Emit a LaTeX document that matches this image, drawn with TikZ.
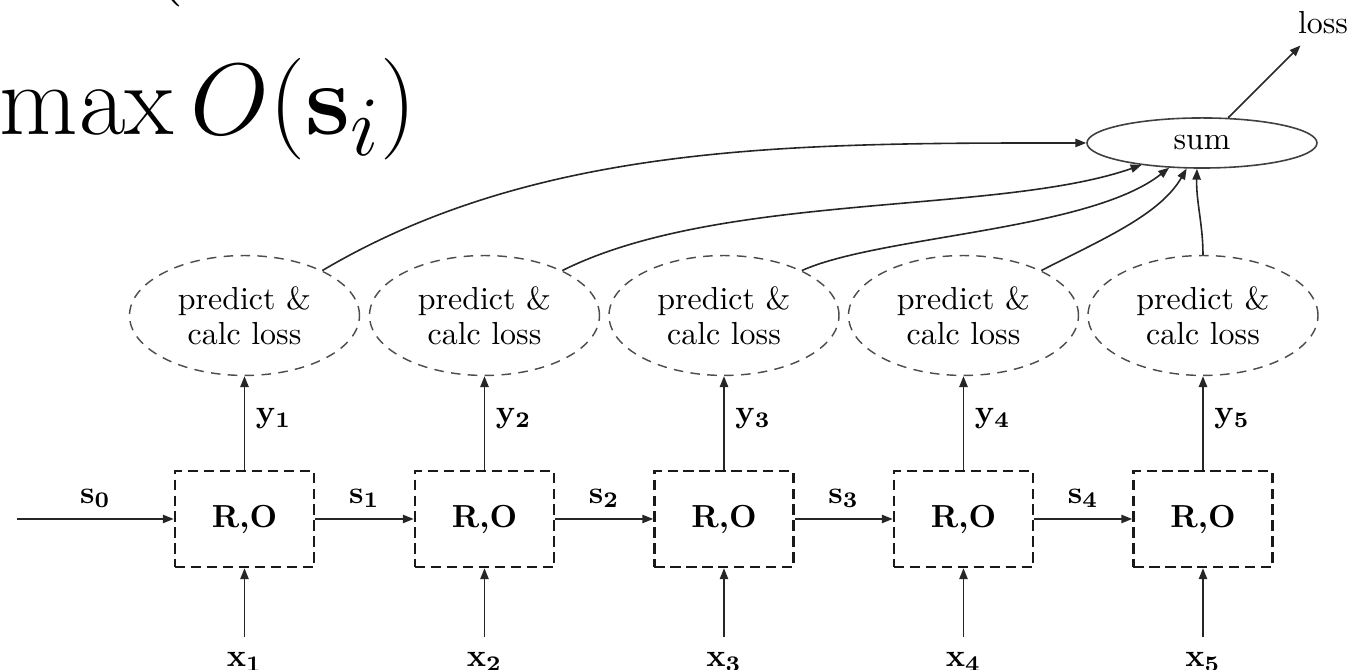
\documentclass[tikz,border=0pt]{standalone}
\usepackage{graphicx}
\usetikzlibrary{shapes.geometric,arrows.meta}
\begin{document}
\begin{tikzpicture}[x=0.3135pt,y=-0.3135pt,
  arr/.style={draw=black!85,line width=0.5pt,-{Triangle[length=3.4pt,width=2.6pt]}},
  robox/.style={draw=black!90,line width=0.8pt,dash pattern=on 3.2pt off 1.8pt,minimum width=43.6pt,minimum height=30.1pt,inner sep=0pt,font=\bfseries},
  pred/.style={ellipse,draw=black!70,line width=0.45pt,dash pattern=on 3pt off 2.3pt,minimum width=72.1pt,minimum height=37.6pt,inner sep=0pt,align=center,font=\fontsize{10}{11}\selectfont},
  sumnode/.style={ellipse,draw=black!75,line width=0.5pt,minimum width=72.1pt,minimum height=15.7pt,inner sep=0pt},
  slbl/.style={midway,anchor=base,yshift=5pt},
  ylbl/.style={midway,anchor=base west},
  xlbl/.style={anchor=base,inner xsep=2pt,inner ysep=4.7pt}
]
\useasboundingbox (0,0) rectangle (1368,670);
\clip (0,0) rectangle (1368,670);

% formula fragments
\node[anchor=base west,inner sep=0pt] (formula) at (-1,135) {\scalebox{1.28}{\fontsize{24.88}{30}\selectfont$\max O(\mathbf{s}_i)$}};
\node[anchor=base west,inner sep=0pt] (paren) at (148,-18) {\scalebox{1.28}{\fontsize{24.88}{30}\selectfont$($}};

% boxes
\foreach \i/\x in {1/244.5,2/484.5,3/724,4/963.5,5/1203}{
  \node[robox] (b\i) at (\x,519) {R,O};
  \node[pred] (e\i) at (\x,315.5) {predict \&\\calc loss};
  \node[xlbl] (x\i) at (\x,667) {$\mathbf{x_\i}$};
  \draw[arr] (b\i.north) -- node[ylbl] {$\mathbf{y_\i}$} (e\i.south);
  \draw[arr] (x\i.north) -- (b\i.south);
}

\coordinate (s0) at (17,519);
\draw[arr] (s0) -- node[slbl] {$\mathbf{s_0}$} (b1.west);
\draw[arr] (b1.east) -- node[slbl] {$\mathbf{s_1}$} (b2.west);
\draw[arr] (b2.east) -- node[slbl] {$\mathbf{s_2}$} (b3.west);
\draw[arr] (b3.east) -- node[slbl] {$\mathbf{s_3}$} (b4.west);
\draw[arr] (b4.east) -- node[slbl] {$\mathbf{s_4}$} (b5.west);

% sum and loss
\node[sumnode] (sum) at (1202,143) {sum};
\node (loss) at (1323,23) {loss};
\draw[arr] (sum.44) -- (loss);

\draw[arr] (e1.30) .. controls +(218,-129) and +(-287,0) .. (sum.west);
\draw[arr] (e2.30) .. controls +(158,-79) and +(-143,50) .. (sum.200);
\draw[arr] (e3.30) .. controls +(78,-35) and +(-80,63) .. (sum.217);
\draw[arr] (e4.30) .. controls +(58,-30) and +(-27,47) .. (sum.239);
\draw[arr] (e5.north) .. controls +(0,-30) and +(-1,32) .. (sum.259);
\end{tikzpicture}
\end{document}
